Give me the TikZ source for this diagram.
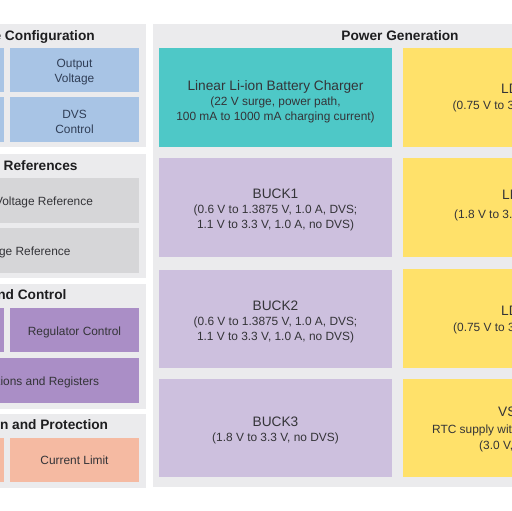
\documentclass[tikz,border=0pt]{standalone}
\usepackage{fontspec}
\setmainfont{Liberation Sans}
\definecolor{panelbg}{RGB}{235,235,237}
\definecolor{bluebox}{RGB}{168,196,229}
\definecolor{graybox}{RGB}{214,214,216}
\definecolor{purpdark}{RGB}{170,142,198}
\definecolor{salmon}{RGB}{245,186,162}
\definecolor{teal}{RGB}{78,200,199}
\definecolor{purplight}{RGB}{205,192,222}
\definecolor{yellowbox}{RGB}{255,225,106}
\definecolor{txt}{RGB}{52,52,56}
\definecolor{bluetxt}{RGB}{48,62,86}
\definecolor{ttltxt}{RGB}{30,30,32}
\tikzset{
  blk/.style={draw=none, inner sep=0pt, outer sep=0pt, anchor=north west},
  panel/.style={blk, fill=panelbg},
  sectitle/.style={inner sep=0pt, yshift=-2.5pt, text=ttltxt, font=\fontsize{13.7}{16}\selectfont\bfseries},
  boxtxt/.style={inner sep=0pt, yshift=-2.5pt, text=txt, align=center, font=\fontsize{11.9}{15}\selectfont},
  bigtxt/.style={inner sep=0pt, yshift=-2.5pt, text=txt, font=\fontsize{13.7}{16}\selectfont}
}
\begin{document}
\begin{tikzpicture}[x=1pt,y=-1pt]
\useasboundingbox (0,0) rectangle (512,511);
\begin{scope}
\clip (0,0) rectangle (512,511);
\fill[white] (0,0) rectangle (512,511);
% left panels
\node[panel, minimum width=286pt, minimum height=123pt] (p1) at (-140,24) {};
\node[panel, minimum width=286pt, minimum height=124pt] (p2) at (-140,154) {};
\node[panel, minimum width=286pt, minimum height=125pt] (p3) at (-140,284) {};
\node[panel, minimum width=286pt, minimum height=74pt] (p4) at (-140,414) {};
% right panel
\node[panel, minimum width=500pt, minimum height=463pt] (pg) at (153,24) {};
% panel 1 boxes
\node[blk, fill=bluebox, minimum width=129pt, minimum height=44pt] (c1a) at (-125,48) {};
\node[blk, fill=bluebox, minimum width=129pt, minimum height=45pt] (c1b) at (-125,97) {};
\node[blk, fill=bluebox, minimum width=129pt, minimum height=44pt] (ov) at (10,48) {};
\node[blk, fill=bluebox, minimum width=129pt, minimum height=45pt] (dvs) at (10,97) {};
% panel 2 boxes
\node[blk, fill=graybox, minimum width=264pt, minimum height=45pt] (vr) at (-125,178) {};
\node[blk, fill=graybox, minimum width=264pt, minimum height=45pt] (gr) at (-125,228) {};
% panel 3 boxes
\node[blk, fill=purpdark, minimum width=129pt, minimum height=44pt] (c3a) at (-125,308) {};
\node[blk, fill=purpdark, minimum width=129pt, minimum height=44pt] (rc) at (10,308) {};
\node[blk, fill=purpdark, minimum width=264pt, minimum height=45pt] (reg) at (-125,358) {};
% panel 4 boxes
\node[blk, fill=salmon, minimum width=129pt, minimum height=44pt] (c4a) at (-125,438) {};
\node[blk, fill=salmon, minimum width=129pt, minimum height=44pt] (cl) at (10,438) {};
% power generation boxes
\node[blk, fill=teal, minimum width=233pt, minimum height=99pt] (chg) at (159,48) {};
\node[blk, fill=purplight, minimum width=233pt, minimum height=99pt] (b1) at (159,158) {};
\node[blk, fill=purplight, minimum width=233pt, minimum height=98pt] (b2) at (159,270) {};
\node[blk, fill=purplight, minimum width=233pt, minimum height=98pt] (b3) at (159,379) {};
\node[blk, fill=yellowbox, minimum width=232pt, minimum height=99pt] (l1) at (403,48) {};
\node[blk, fill=yellowbox, minimum width=232pt, minimum height=99pt] (l2) at (403,158) {};
\node[blk, fill=yellowbox, minimum width=232pt, minimum height=99pt] (l3) at (403,269) {};
\node[blk, fill=yellowbox, minimum width=232pt, minimum height=98pt] (vs) at (403,379) {};
% section titles
\node[sectitle, anchor=mid east] (t1) at (95,35) {e Configuration};
\node[sectitle, anchor=mid west] (t2) at (3.5,165) {References};
\node[sectitle, anchor=mid east] (t3) at (66.7,294) {nd Control};
\node[sectitle, anchor=mid east] (t4) at (108.3,424) {n and Protection};
\node[sectitle, anchor=mid] (tpg) at (400,35) {Power Generation};
% left box texts
\node[boxtxt, text=bluetxt] (tov) at (74.5,69.5) {Output\\Voltage};
\node[boxtxt, text=bluetxt] (tdvs) at (74.5,119) {DVS\\Control};
\node[boxtxt, anchor=mid west] (tvr) at (-5.2,200) {Voltage Reference};
\node[boxtxt, anchor=mid east] (tgr) at (70.7,250) {ge Reference};
\node[boxtxt, anchor=mid] (trc) at (74.5,330) {Regulator Control};
\node[boxtxt, anchor=mid east] (treg) at (99.3,380) {tions and Registers};
\node[boxtxt, anchor=mid] (tcl) at (74.5,459) {Current Limit};
% power generation texts
\node[boxtxt] (tchg) at (275.5,99) {{\fontsize{13.7}{16}\selectfont Linear Li-ion Battery Charger}\\(22 V surge, power path,\\100 mA to 1000 mA charging current)};
\node[boxtxt] (tb1) at (275.5,207) {{\fontsize{13.7}{16}\selectfont BUCK1}\\(0.6 V to 1.3875 V, 1.0 A, DVS;\\1.1 V to 3.3 V, 1.0 A, no DVS)};
\node[boxtxt] (tb2) at (275.5,319) {{\fontsize{13.7}{16}\selectfont BUCK2}\\(0.6 V to 1.3875 V, 1.0 A, DVS;\\1.1 V to 3.3 V, 1.0 A, no DVS)};
\node[boxtxt] (tb3) at (275.5,428) {{\fontsize{13.7}{16}\selectfont BUCK3}\\(1.8 V to 3.3 V, no DVS)};
% yellow texts (cut by the edge)
\node[bigtxt, anchor=mid west] (tl1a) at (501,88) {LD};
\node[boxtxt, anchor=mid west] (tl1b) at (452.5,104) {(0.75 V to 3};
\node[bigtxt, anchor=mid west] (tl2a) at (502,194) {LD};
\node[boxtxt, anchor=mid west] (tl2b) at (454,213) {(1.8 V to 3.};
\node[bigtxt, anchor=mid west] (tl3a) at (501,310) {LD};
\node[boxtxt, anchor=mid west] (tl3b) at (453,326) {(0.75 V to 3};
\node[bigtxt, anchor=mid west] (tvsa) at (498,411) {VS};
\node[boxtxt, anchor=mid west] (tvsb) at (432,428) {RTC supply with};
\node[boxtxt, anchor=mid west] (tvsc) at (479,444) {(3.0 V,};
\end{scope}
\end{tikzpicture}
\end{document}
